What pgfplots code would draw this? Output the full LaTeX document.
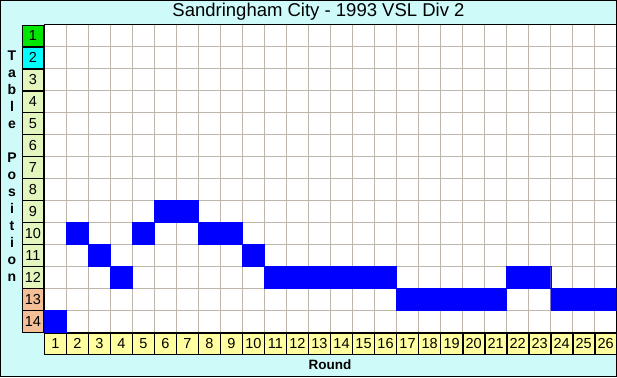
\documentclass[border=0pt]{standalone}
\usepackage{pgfplots}
\pgfplotsset{compat=1.18}
\usepackage{pgfplotstable}
\usepackage{fontspec}
\setmainfont{Liberation Sans}
\definecolor{bgc}{RGB}{206,250,250}
\definecolor{gridc}{RGB}{190,182,170}
\definecolor{pgreen}{RGB}{0,230,0}
\definecolor{pcyan}{RGB}{0,255,255}
\definecolor{pmid}{RGB}{226,246,190}
\definecolor{plow}{RGB}{244,190,150}
\definecolor{ryel}{RGB}{255,255,160}
\definecolor{pblue}{RGB}{0,0,255}
\newcommand\ylab[2]{{\setlength\fboxsep{0pt}\setlength\fboxrule{0.6pt}\fcolorbox{black}{#1}{\parbox[c][21pt][c]{21pt}{\centering #2}}}}
\newcommand\xlab[1]{\ylab{ryel}{#1}}
\pgfplotstableread{
r p
1 14
2 10
3 11
4 12
5 10
6 9
7 9
8 10
9 10
10 11
11 12
12 12
13 12
14 12
15 12
16 12
17 13
18 13
19 13
20 13
21 13
22 12
23 12
24 13
25 13
26 13
}\postable
\begin{document}
\begin{tikzpicture}[x=1pt,y=1pt]
\useasboundingbox (0,0) rectangle (617,377);
\fill[bgc] (0,0) rectangle (617,377);
\draw[black, line width=1pt] (0.5,0.5) rectangle (616.5,376.5);
\begin{axis}[
  at={(44.3pt,44.7pt)}, anchor=south west,
  scale only axis, width=572.4pt, height=307.6pt,
  xmin=0.5, xmax=26.5, ymin=0.5, ymax=14.5,
  y dir=reverse,
  axis background/.style={fill=white},
  axis line style={black, line width=0.8pt},
  ybar stacked, bar width=1,
  xtick={1,...,26}, ytick={1,...,14},
  minor xtick={0.5,1.5,...,26.5},
  minor ytick={0.5,1.5,...,14.5},
  xminorgrids=true, yminorgrids=true,
  minor grid style={gridc, line width=0.8pt},
  major tick length=0pt, minor tick length=0pt,
  ticklabel style={font=\fontsize{14.5}{16}\selectfont, inner sep=0pt},
  xticklabels={\xlab{1},\xlab{2},\xlab{3},\xlab{4},\xlab{5},\xlab{6},\xlab{7},\xlab{8},\xlab{9},\xlab{10},\xlab{11},\xlab{12},\xlab{13},\xlab{14},\xlab{15},\xlab{16},\xlab{17},\xlab{18},\xlab{19},\xlab{20},\xlab{21},\xlab{22},\xlab{23},\xlab{24},\xlab{25},\xlab{26}},
  yticklabels={\ylab{pgreen}{1},\ylab{pcyan}{2},\ylab{pmid}{3},\ylab{pmid}{4},\ylab{pmid}{5},\ylab{pmid}{6},\ylab{pmid}{7},\ylab{pmid}{8},\ylab{pmid}{9},\ylab{pmid}{10},\ylab{pmid}{11},\ylab{pmid}{12},\ylab{plow}{13},\ylab{plow}{14}},
  clip=true,
]
\addplot[draw=none, fill=none] table[x=r, y expr=\thisrow{p}-0.5] {\postable};
\addplot[draw=pblue, line width=0.3pt, fill=pblue] table[x=r, y expr=1] {\postable};
\end{axis}
\node[font=\fontsize{18.5}{21}\selectfont] at (318.5,365.5) {Sandringham City - 1993 VSL Div 2};
\node[font=\bfseries\fontsize{13.5}{15}\selectfont] at (330,12) {Round};
\node[font=\bfseries\fontsize{14}{17}\selectfont, align=center, inner sep=0pt] at (12,211) {T\\a\\b\\l\\e\\[17pt]P\\o\\s\\i\\t\\i\\o\\n};
\end{tikzpicture}
\end{document}
